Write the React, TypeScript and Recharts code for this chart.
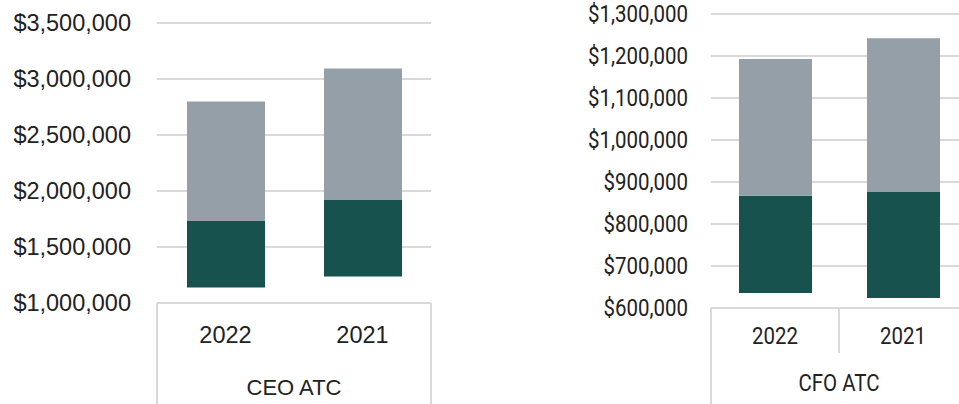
import { BarChart, Bar, XAxis, YAxis, CartesianGrid } from 'recharts'

const ceoYears = ['2022', '2021']
const ceoBase = [1138000, 1236000]
const ceoMid = [1733000, 1925000]
const ceoTotal = [2798000, 3093000]
const ceoTicks = [1000000, 1500000, 2000000, 2500000, 3000000, 3500000]

const cfoYears = ['2022', '2021']
const cfoBase = [636000, 624000]
const cfoMid = [867000, 876000]
const cfoTotal = [1193000, 1242000]
const cfoTicks = [600000, 700000, 800000, 900000, 1000000, 1100000, 1200000, 1300000]

const GREEN = '#17524f'
const GRAY = '#959fa8'
const LINE = '#d9d9d9'
const TEXT = '#222222'

function formatUsd(v: number) {
  return '$' + v.toLocaleString('en-US')
}

interface FontSpec {
  family: string
  size: number
  groupSize: number
  scaleX: number
}

interface PanelProps {
  group: string
  years: string[]
  base: number[]
  mid: number[]
  total: number[]
  ticks: number[]
  width: number
  height: number
  top: number
  right: number
  yAxisWidth: number
  labelGap: number
  yearHeight: number
  groupHeight: number
  yearDy: number
  groupDy: number
  barSize: number
  separator: boolean
  font: FontSpec
}

function Panel(p: PanelProps) {
  const data = p.years.map((year, i) => ({
    year,
    group: p.group,
    base: p.base[i],
    low: p.mid[i] - p.base[i],
    high: p.total[i] - p.mid[i],
  }))

  const label = (x: number, y: number, text: string, size: number, anchor: string) => (
    <text
      x={0}
      y={0}
      transform={`translate(${x},${y}) scale(${p.font.scaleX},1)`}
      textAnchor={anchor}
      dominantBaseline="central"
      fontFamily={p.font.family}
      fontSize={size}
      fill={TEXT}
    >
      {text}
    </text>
  )

  const YTick = (props: any) => {
    const { x, y, payload } = props
    return <g>{label(x, y, formatUsd(payload.value), p.font.size, 'end')}</g>
  }

  const YearTick = (props: any) => {
    const { x, y, payload, index, width, visibleTicksCount } = props
    const step = width / visibleTicksCount
    return (
      <g>
        {label(x, y + p.yearDy, payload.value, p.font.size, 'middle')}
        {p.separator && index < visibleTicksCount - 1 && (
          <line x1={x + step / 2} x2={x + step / 2} y1={y} y2={y + p.yearHeight - 3} stroke={LINE} strokeWidth={2} />
        )}
      </g>
    )
  }

  const GroupTick = (props: any) => {
    const { x, y, payload, width } = props
    return (
      <g>
        {label(x, y + p.groupDy, payload.value, p.font.groupSize, 'middle')}
        <line x1={x - width / 2} x2={x - width / 2} y1={y - p.yearHeight} y2={y + p.groupHeight} stroke={LINE} strokeWidth={2} />
        <line x1={x + width / 2} x2={x + width / 2} y1={y - p.yearHeight} y2={y + p.groupHeight} stroke={LINE} strokeWidth={2} />
      </g>
    )
  }

  return (
    <BarChart
      width={p.width}
      height={p.height}
      data={data}
      margin={{ top: p.top, right: p.right, bottom: 0, left: 0 }}
    >
      <CartesianGrid vertical={false} stroke={LINE} strokeWidth={2} />
      <XAxis
        dataKey="year"
        height={p.yearHeight}
        axisLine={{ stroke: LINE, strokeWidth: 2 }}
        tickLine={false}
        tickSize={0}
        tickMargin={0}
        interval={0}
        tick={YearTick}
      />
      <XAxis
        xAxisId="grp"
        dataKey="group"
        allowDuplicatedCategory={false}
        height={p.groupHeight}
        axisLine={false}
        tickLine={false}
        tickSize={0}
        tickMargin={0}
        interval={0}
        tick={GroupTick}
      />
      <YAxis
        width={p.yAxisWidth}
        domain={[p.ticks[0], p.ticks[p.ticks.length - 1]]}
        ticks={p.ticks}
        interval={0}
        allowDataOverflow
        axisLine={false}
        tickLine={false}
        tickSize={0}
        tickMargin={p.labelGap}
        tick={YTick}
      />
      <Bar dataKey="base" stackId="a" fill="transparent" barSize={p.barSize} isAnimationActive={false} />
      <Bar dataKey="low" stackId="a" fill={GREEN} barSize={p.barSize} isAnimationActive={false} />
      <Bar dataKey="high" stackId="a" fill={GRAY} barSize={p.barSize} isAnimationActive={false} />
    </BarChart>
  )
}

export default function App() {
  return (
    <div style={{ position: 'fixed', left: 0, top: 0, width: 959, height: 404, overflow: 'hidden', background: '#fff' }}>
      <div style={{ position: 'absolute', left: 0, top: 0 }}>
        <Panel
          group="CEO ATC"
          years={ceoYears}
          base={ceoBase}
          mid={ceoMid}
          total={ceoTotal}
          ticks={ceoTicks}
          width={480}
          height={404}
          top={23}
          right={49}
          yAxisWidth={157}
          labelGap={26}
          yearHeight={48}
          groupHeight={53}
          yearDy={32}
          groupDy={36}
          barSize={78}
          separator={false}
          font={{ family: "'Liberation Sans', Arial, sans-serif", size: 23.5, groupSize: 22, scaleX: 1 }}
        />
      </div>
      <div style={{ position: 'absolute', left: 480, top: 0 }}>
        <Panel
          group="CFO ATC"
          years={cfoYears}
          base={cfoBase}
          mid={cfoMid}
          total={cfoTotal}
          ticks={cfoTicks}
          width={487}
          height={404}
          top={14}
          right={0}
          yAxisWidth={231}
          labelGap={23}
          yearHeight={48}
          groupHeight={48}
          yearDy={28}
          groupDy={27}
          barSize={73}
          separator={true}
          font={{ family: "Roboto, 'Noto Sans', sans-serif", size: 23.5, groupSize: 23.5, scaleX: 0.87 }}
        />
      </div>
    </div>
  )
}
